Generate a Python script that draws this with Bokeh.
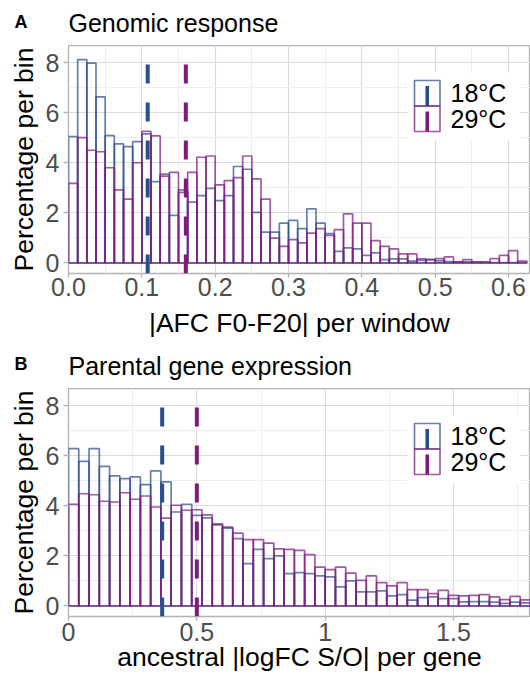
import numpy as np
from bokeh.plotting import figure
from bokeh.layouts import column
from bokeh.models import (Label, BoxAnnotation, SingleIntervalTicker,
                          PrintfTickFormatter, NumeralTickFormatter, Range1d)
from bokeh.embed import file_html
from bokeh.resources import INLINE

# ---------------- data ----------------
SERIES = ["18°C", "29°C"]

# Panel A: |AFC F0-F20| per window, bin width 0.0125 starting at 0
A_BIN = 0.0125
A_18 = [5.04, 8.12, 7.98, 6.63, 5.08, 4.75, 4.64, 4.84, 5.15, 3.25,
        3.55, 1.90, 2.92, 2.43, 2.69, 2.98, 2.49, 2.69, 3.85, 3.74,
        2.02, 1.23, 1.23, 1.59, 1.70, 1.37, 2.16, 1.59, 1.17, 0.46,
        0.60, 0.56, 0.30, 0.40, 0.13, 0.16, 0.16, 0.07, 0.10, 0.13,
        0.08, 0.05, 0.04, 0.04, 0.03, 0.02, 0.02, 0.02, 0.02, 0.01]
A_29 = [3.18, 5.00, 4.50, 4.44, 3.80, 2.92, 2.55, 4.00, 5.25, 5.07,
        3.47, 3.62, 2.82, 3.62, 4.22, 4.27, 3.12, 3.29, 3.41, 4.27,
        3.36, 2.55, 0.99, 0.66, 0.93, 0.80, 1.19, 1.37, 1.10, 1.33,
        1.96, 1.59, 1.59, 0.89, 0.66, 0.56, 0.36, 0.36, 0.16, 0.13,
        0.17, 0.24, 0.04, 0.13, 0.04, 0.04, 0.17, 0.30, 0.49, 0.07]
A_MEANS = [0.108, 0.160]
A_XMAX = 0.63

# Panel B: ancestral |logFC S/O| per gene, bin width 0.04 starting at 0
B_BIN = 0.04
B_18 = [6.28, 5.77, 6.28, 5.57, 5.19, 5.08, 5.15, 4.84, 5.39, 4.95,
        3.75, 4.06, 3.62, 3.52, 3.24, 3.11, 2.69, 1.69, 2.26, 1.89,
        2.00, 1.29, 1.33, 1.29, 1.20, 1.16, 0.76, 1.00, 0.56, 0.56,
        0.60, 0.40, 0.45, 0.23, 0.33, 0.36, 0.29, 0.29, 0.16, 0.17,
        0.17, 0.15, 0.10, 0.15, 0.12]
B_29 = [4.06, 4.48, 4.44, 4.18, 4.15, 4.52, 4.26, 4.39, 3.95, 3.51,
        4.02, 3.82, 3.84, 3.64, 3.28, 3.15, 2.91, 2.65, 2.65, 2.51,
        2.28, 2.26, 2.22, 2.05, 1.55, 1.45, 1.55, 1.31, 1.02, 1.20,
        0.93, 0.80, 0.93, 0.65, 0.65, 0.49, 0.62, 0.42, 0.40, 0.42,
        0.45, 0.36, 0.25, 0.38, 0.24]
B_MEANS = [0.365, 0.500]
B_XMAX = 1.8

Y_RANGE = (-0.42, 8.68)

# ---------------- style ----------------
FONT = "Liberation Sans"
COLORS = ["#2B4E8C", "#7E1C7E"]
PAGE_W = 530
LEFT = 68
FRAME_H = 228
TICK_GREY = "#4D4D4D"


def make_header(letter, title, height, letter_mid, title_mid):
    # header strip: its data space is set to equal canvas pixels
    h = figure(width=PAGE_W, height=height,
               x_range=Range1d(LEFT, PAGE_W), y_range=Range1d(height, 0),
               output_backend="svg", toolbar_location=None,
               x_axis_type=None, y_axis_type=None,
               min_border_left=LEFT, min_border_right=0,
               min_border_top=0, min_border_bottom=0,
               outline_line_color=None, background_fill_color="white",
               border_fill_color="white")
    h.add_layout(Label(x=14, y=letter_mid, text=letter, text_font=FONT,
                       text_font_size="18px", text_font_style="bold",
                       text_color="black", text_baseline="middle"), "left")
    h.add_layout(Label(x=LEFT, y=title_mid, text=title, text_font=FONT,
                       text_font_size="25px", text_color="black",
                       text_baseline="middle"))
    return h


def make_panel(xlabel, binw, v18, v29, means, xmax, xinterval, xformatter,
               height, label_standoff, axis_label_standoff):
    p = figure(width=PAGE_W, height=height,
               x_range=(0, xmax), y_range=Y_RANGE,
               output_backend="svg", toolbar_location=None,
               min_border_left=LEFT, min_border_right=0,
               min_border_top=0, min_border_bottom=height - FRAME_H,
               background_fill_color="white", border_fill_color="white",
               outline_line_color="#B3B3B3", outline_line_width=1.3)

    # histograms
    for vals, col in zip([v18, v29], COLORS):
        n = len(vals)
        left = np.arange(n) * binw
        p.quad(left=left, right=left + binw, bottom=0, top=vals,
               fill_alpha=0, line_color=col, line_alpha=0.72,
               line_width=1.7)

    # mean lines
    for m, col in zip(means, COLORS):
        p.segment(x0=[m], y0=[Y_RANGE[0]], x1=[m], y1=[Y_RANGE[1]],
                  line_color=col, line_width=4, line_dash="19 19")

    # axes
    p.xaxis.ticker = SingleIntervalTicker(interval=xinterval, num_minor_ticks=2)
    p.yaxis.ticker = SingleIntervalTicker(interval=2, num_minor_ticks=2)
    p.xaxis.formatter = xformatter
    for ax in (p.xaxis[0], p.yaxis[0]):
        ax.axis_line_color = None
        ax.major_tick_line_color = "#B3B3B3"
        ax.major_tick_line_width = 1.3
        ax.major_tick_in = 0
        ax.major_tick_out = 4
        ax.minor_tick_line_color = None
        ax.major_label_text_font = FONT
        ax.major_label_text_font_size = "25px"
        ax.major_label_text_color = TICK_GREY
        ax.axis_label_text_font = FONT
        ax.axis_label_text_font_size = "26.5px"
        ax.axis_label_text_font_style = "normal"
        ax.axis_label_text_color = "black"
    p.xaxis.axis_label = xlabel
    p.yaxis.axis_label = "Percentage per bin"
    p.xaxis.major_label_standoff = label_standoff
    p.xaxis.axis_label_standoff = axis_label_standoff
    p.yaxis.major_tick_out = 5
    p.yaxis.major_label_standoff = 4
    p.yaxis.axis_label_standoff = 4

    # grid
    for g in (p.xgrid[0], p.ygrid[0]):
        g.grid_line_color = "#DCDCDC"
        g.grid_line_width = 1.2
        g.minor_grid_line_color = "#EEEEEE"
        g.minor_grid_line_width = 1.0

    # legend (drawn by hand, offsets in frame pixels)
    lx0, ktop, ksize = 346, 35, 25.5
    p.add_layout(BoxAnnotation(left=lx0 - 7, right=lx0 + 106, top=FRAME_H - ktop + 8,
                               bottom=FRAME_H - ktop - 2 * ksize - 9,
                               left_units="screen", right_units="screen",
                               top_units="screen", bottom_units="screen",
                               fill_color="white", fill_alpha=1, line_color=None))
    for i, (name, col) in enumerate(zip(SERIES, COLORS)):
        top = FRAME_H - ktop - i * ksize
        p.add_layout(BoxAnnotation(left=lx0, right=lx0 + ksize, top=top,
                                   bottom=top - ksize,
                                   left_units="screen", right_units="screen",
                                   top_units="screen", bottom_units="screen",
                                   fill_alpha=0, line_color=col, line_alpha=0.72,
                                   line_width=1.7))
        cx = lx0 + ksize / 2
        p.add_layout(BoxAnnotation(left=cx - 1.8, right=cx + 1.8, top=top - 5.5,
                                   bottom=top - ksize,
                                   left_units="screen", right_units="screen",
                                   top_units="screen", bottom_units="screen",
                                   fill_color=col, fill_alpha=1, line_color=None))
        p.add_layout(Label(x=lx0 + 36, y=top - ksize / 2, x_units="screen",
                           y_units="screen", text=name, text_font=FONT,
                           text_font_size="25px", text_color="black",
                           text_baseline="middle"))
    return p


hA = make_header("A", "Genomic response", 45, 21.3, 22.5)
pA = make_panel("|AFC F0-F20| per window", A_BIN, A_18, A_29, A_MEANS, A_XMAX,
                0.1, PrintfTickFormatter(format="%.1f"),
                height=300, label_standoff=0, axis_label_standoff=9)
hB = make_header("B", "Parental gene expression", 43, 18.0, 20)
pB = make_panel("ancestral |logFC S/O| per gene", B_BIN, B_18, B_29, B_MEANS, B_XMAX,
                0.5, NumeralTickFormatter(format="0.[0]"),
                height=292, label_standoff=2, axis_label_standoff=-2)

layout = column(hA, pA, hB, pB, spacing=0)
open("out.html", "w").write(file_html(layout, INLINE))
